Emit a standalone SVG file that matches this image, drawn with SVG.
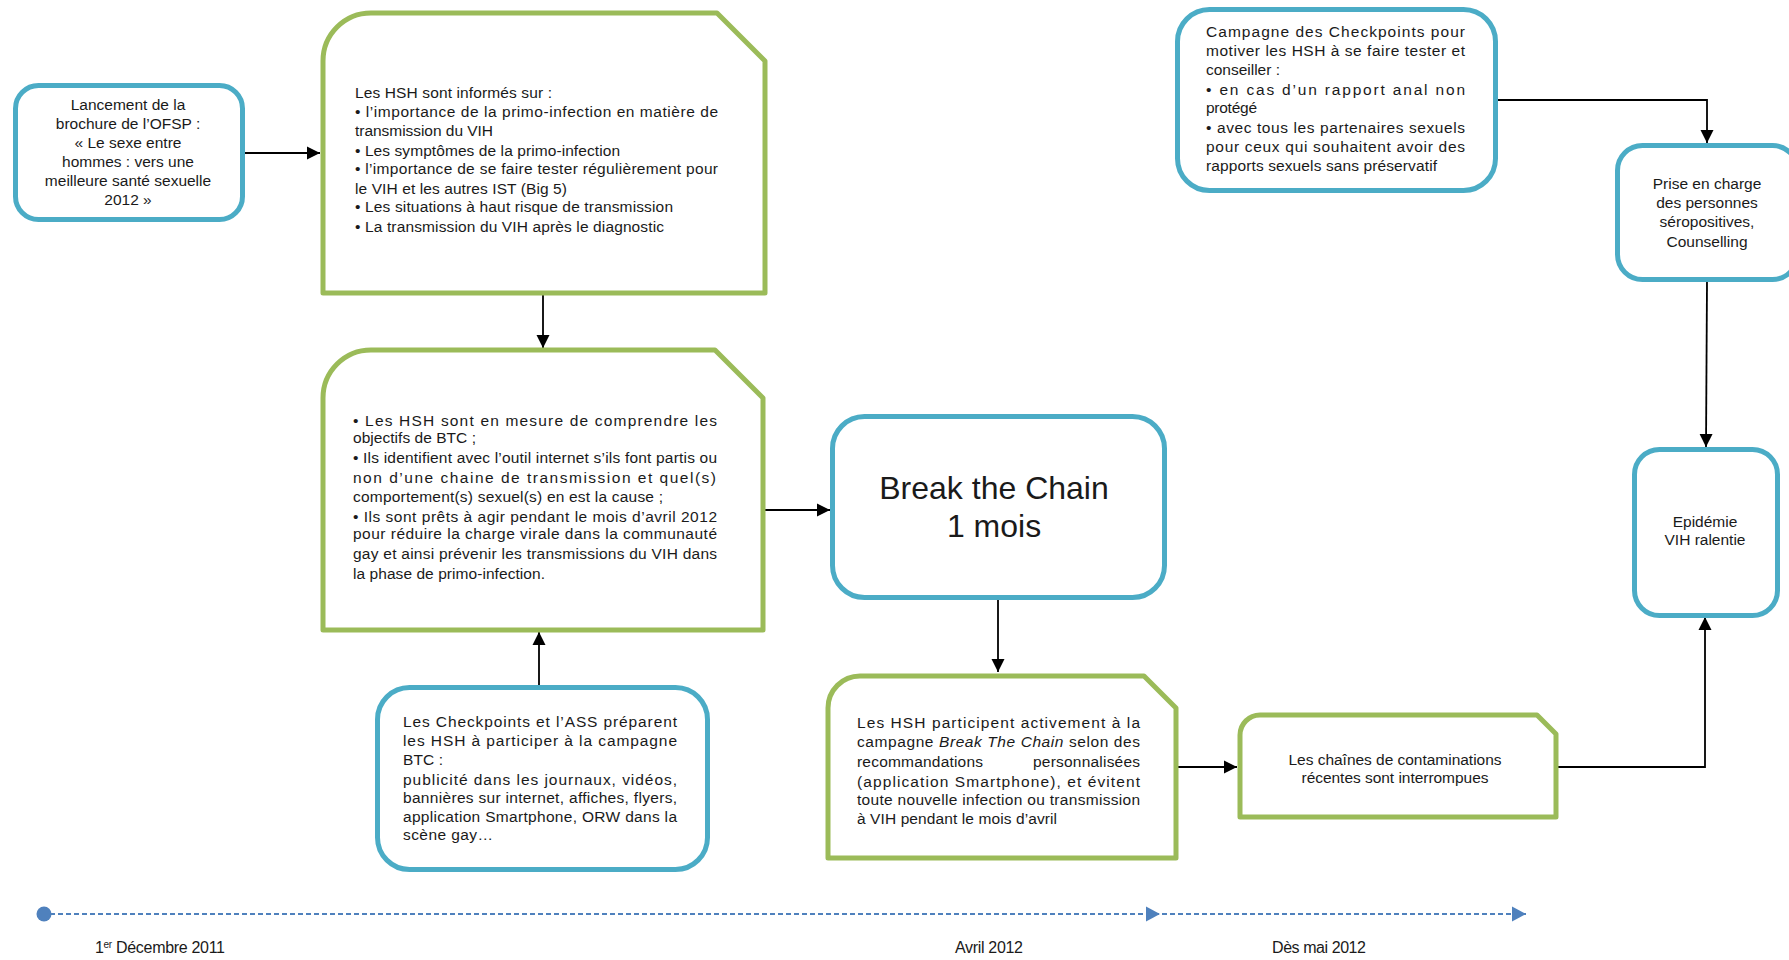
<svg xmlns="http://www.w3.org/2000/svg" width="1789" height="960" viewBox="0 0 1789 960">
<style>
text{font-family:"Liberation Sans",Arial,sans-serif;font-size:15.5px;fill:#1a1a1a}
.c{text-anchor:middle}
.e{text-anchor:end}
.blue{fill:#fff;stroke:#4BACC6;stroke-width:5}
.green{fill:#fff;stroke:#9BBB59;stroke-width:5;stroke-linejoin:round}
.conn{fill:none;stroke:#000;stroke-width:1.8}
.tl{fill:none;stroke:#4F81BD;stroke-width:2;stroke-dasharray:5 3}
.big{font-size:32px}
.tlt{font-size:16px}
</style>
<defs>
<marker id="ah" markerUnits="userSpaceOnUse" markerWidth="14" markerHeight="14" refX="13" refY="7" orient="auto">
<path d="M0,0.5 L13,7 L0,13.5 Z" fill="#000"/>
</marker>
<marker id="bh" markerUnits="userSpaceOnUse" markerWidth="16" markerHeight="16" refX="14" refY="8" orient="auto">
<path d="M0,0.5 L14,8 L0,15.5 Z" fill="#4F81BD"/>
</marker>
</defs>

<g id="connectors">
<path class="conn" d="M245,153 L320,153" marker-end="url(#ah)"/>
<path class="conn" d="M543,295 L543,348" marker-end="url(#ah)"/>
<path class="conn" d="M539,685 L539,632" marker-end="url(#ah)"/>
<path class="conn" d="M765,510 L830,510" marker-end="url(#ah)"/>
<path class="conn" d="M998,600 L998,672" marker-end="url(#ah)"/>
<path class="conn" d="M1178,767 L1237,767" marker-end="url(#ah)"/>
<path class="conn" d="M1558,767 L1705,767 L1705,617" marker-end="url(#ah)"/>
<path class="conn" d="M1498,100 L1707,100 L1707,143" marker-end="url(#ah)"/>
<path class="conn" d="M1707,282 L1706,447" marker-end="url(#ah)"/>
</g>

<g id="timeline">
<circle cx="44" cy="914" r="7.5" fill="#4F81BD"/>
<path class="tl" d="M50,914 L1160,914" marker-end="url(#bh)"/>
<path class="tl" d="M1162,914 L1526,914" marker-end="url(#bh)"/>
<text class="tlt" x="95" y="953" textLength="130"><tspan>1</tspan><tspan font-size="10" dy="-5">er</tspan><tspan dy="5"> Décembre 2011</tspan></text>
<text class="tlt" x="955" y="953" textLength="68">Avril 2012</text>
<text class="tlt" x="1272" y="953" textLength="94">Dès mai 2012</text>
</g>

<g id="n-lancement">
<rect class="blue" x="15.5" y="85.5" width="227" height="134" rx="23"/>
<text class="c" x="128" y="110">Lancement de la</text>
<text class="c" x="128" y="129">brochure de l’OFSP :</text>
<text class="c" x="128" y="148">« Le sexe entre</text>
<text class="c" x="128" y="167">hommes : vers une</text>
<text class="c" x="128" y="186">meilleure santé sexuelle</text>
<text class="c" x="128" y="205">2012 »</text>
</g>

<g id="n-informes">
<path class="green" d="M323,61 A48,48 0 0 1 371,13 L717,13 L765,61 L765,293 L323,293 Z"/>
<text x="355" y="98" textLength="197">Les HSH sont informés sur :</text>
<text x="355" y="117" textLength="363">• l’importance de la primo-infection en matière de</text>
<text x="355" y="136" textLength="138">transmission du VIH</text>
<text x="355" y="156" textLength="265">• Les symptômes de la primo-infection</text>
<text x="355" y="174" textLength="363">• l’importance de se faire tester régulièrement pour</text>
<text x="355" y="194" textLength="212">le VIH et les autres IST (Big 5)</text>
<text x="355" y="212" textLength="318">• Les situations à haut risque de transmission</text>
<text x="355" y="232" textLength="309">• La transmission du VIH après le diagnostic</text>
</g>

<g id="n-comprendre">
<path class="green" d="M323,398 A48,48 0 0 1 371,350 L715,350 L763,398 L763,630 L323,630 Z"/>
<text x="353" y="426" textLength="364">• Les HSH sont en mesure de comprendre les</text>
<text x="353" y="443" textLength="123">objectifs de BTC ;</text>
<text x="353" y="463" textLength="364">• Ils identifient avec l’outil internet s’ils font partis ou</text>
<text x="353" y="483" textLength="363">non d’une chaine de transmission et quel(s)</text>
<text x="353" y="502" textLength="310">comportement(s) sexuel(s) en est la cause ;</text>
<text x="353" y="522" textLength="364">• Ils sont prêts à agir pendant le mois d’avril 2012</text>
<text x="353" y="539" textLength="364">pour réduire la charge virale dans la communauté</text>
<text x="353" y="559" textLength="364">gay et ainsi prévenir les transmissions du VIH dans</text>
<text x="353" y="579" textLength="192">la phase de primo-infection.</text>
</g>

<g id="n-preparent">
<rect class="blue" x="377.5" y="687.5" width="330" height="182" rx="32"/>
<text x="403" y="727" textLength="274">Les Checkpoints et l’ASS préparent</text>
<text x="403" y="746" textLength="274">les HSH à participer à la campagne</text>
<text x="403" y="765" textLength="40">BTC :</text>
<text x="403" y="785" textLength="274">publicité dans les journaux, vidéos,</text>
<text x="403" y="803" textLength="274">bannières sur internet, affiches, flyers,</text>
<text x="403" y="822" textLength="274">application Smartphone, ORW dans la</text>
<text x="403" y="840" textLength="90">scène gay…</text>
</g>

<g id="n-btc">
<rect class="blue" x="832.5" y="416.5" width="332" height="181" rx="32"/>
<text class="c big" x="994" y="499">Break the Chain</text>
<text class="c big" x="994" y="537">1 mois</text>
</g>

<g id="n-participent">
<path class="green" d="M828,708 A32,32 0 0 1 860,676 L1144,676 L1176,708 L1176,858 L828,858 Z"/>
<text x="857" y="728" textLength="283">Les HSH participent activement à la</text>
<text x="857" y="747" textLength="283">campagne <tspan font-style="italic">Break The Chain</tspan> selon des</text>
<text x="857" y="767" textLength="126">recommandations</text>
<text class="e" x="1140" y="767" textLength="107">personnalisées</text>
<text x="857" y="787" textLength="283">(application Smartphone), et évitent</text>
<text x="857" y="805" textLength="283">toute nouvelle infection ou transmission</text>
<text x="857" y="824" textLength="200">à VIH pendant le mois d’avril</text>
</g>

<g id="n-chaines">
<path class="green" d="M1240,735 A20,20 0 0 1 1260,715 L1537,715 L1556,734 L1556,817 L1240,817 Z"/>
<text class="c" x="1395" y="765" textLength="213">Les chaînes de contaminations</text>
<text class="c" x="1395" y="783" textLength="187">récentes sont interrompues</text>
</g>

<g id="n-campagne">
<rect class="blue" x="1177.5" y="9.5" width="318" height="181" rx="32"/>
<text x="1206" y="37" textLength="259">Campagne des Checkpoints pour</text>
<text x="1206" y="56" textLength="259">motiver les HSH à se faire tester et</text>
<text x="1206" y="75" textLength="74">conseiller :</text>
<text x="1206" y="95" textLength="259">• en cas d’un rapport anal non</text>
<text x="1206" y="113" textLength="51">protégé</text>
<text x="1206" y="133" textLength="259">• avec tous les partenaires sexuels</text>
<text x="1206" y="152" textLength="259">pour ceux qui souhaitent avoir des</text>
<text x="1206" y="171" textLength="231">rapports sexuels sans préservatif</text>
</g>

<g id="n-prise">
<rect class="blue" x="1617.5" y="145.5" width="180" height="134" rx="25"/>
<text class="c" x="1707" y="189">Prise en charge</text>
<text class="c" x="1707" y="208">des personnes</text>
<text class="c" x="1707" y="227">séropositives,</text>
<text class="c" x="1707" y="247">Counselling</text>
</g>

<g id="n-epidemie">
<rect class="blue" x="1634.5" y="449.5" width="143" height="166" rx="25"/>
<text class="c" x="1705" y="527">Epidémie</text>
<text class="c" x="1705" y="545">VIH ralentie</text>
</g>
</svg>
